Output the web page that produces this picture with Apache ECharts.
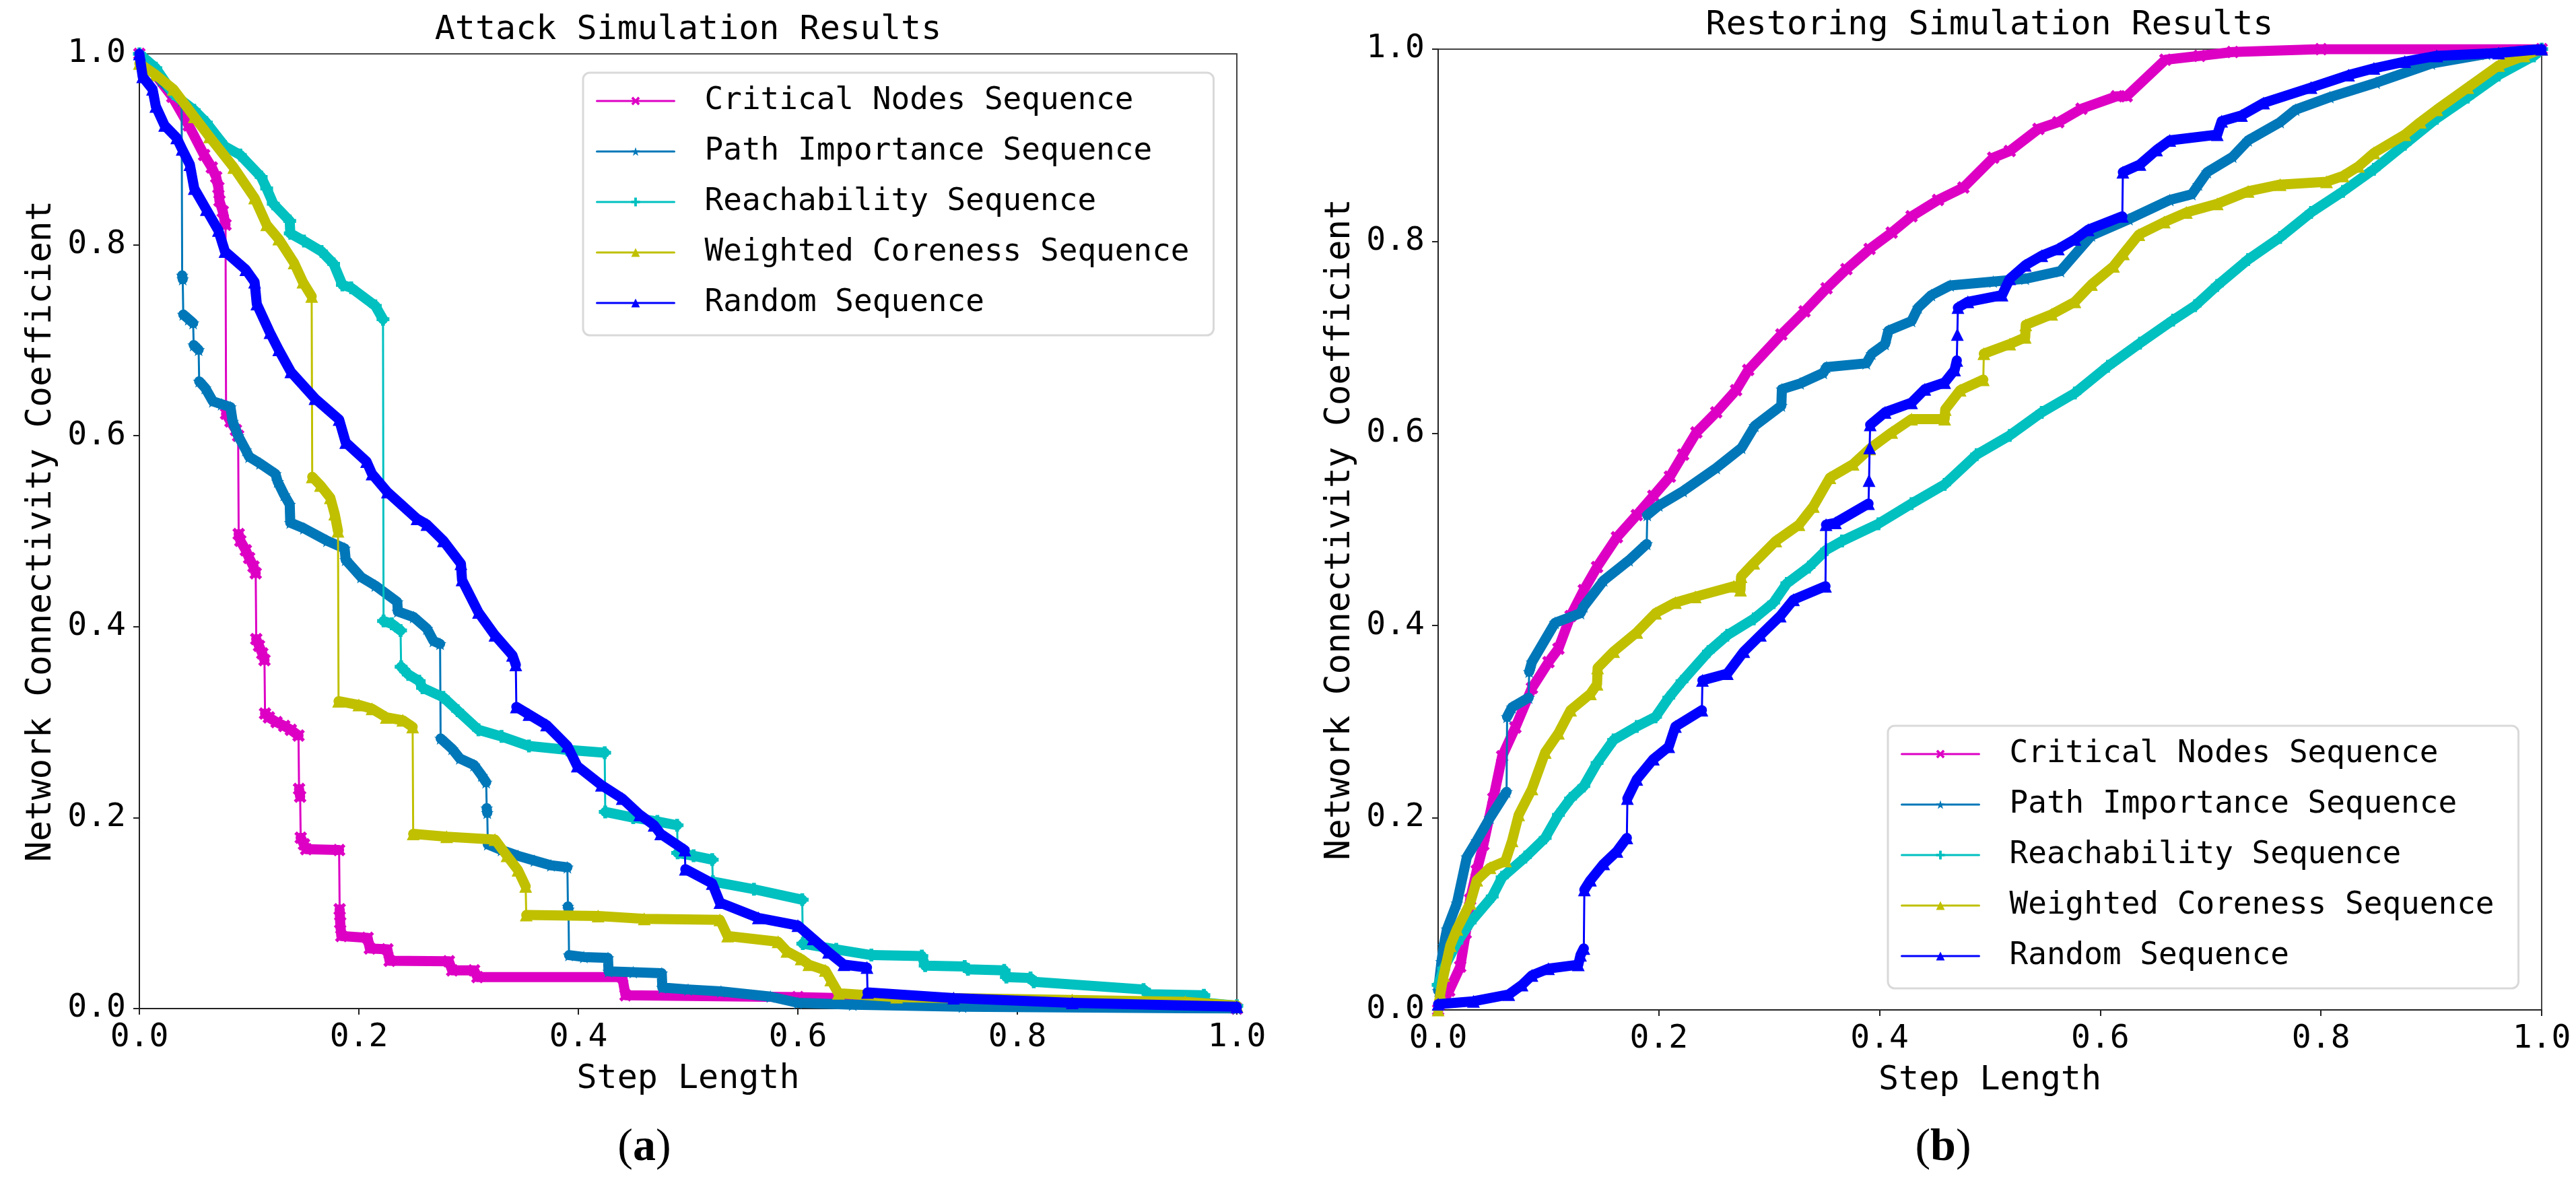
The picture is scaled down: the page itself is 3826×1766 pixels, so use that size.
<!DOCTYPE html>
<html>
<head>
<meta charset="utf-8">
<script src="https://cdn.jsdelivr.net/npm/echarts@6/dist/echarts.min.js"></script>
<style>
html, body { margin: 0; padding: 0; background: #fff; }
#chart { width: 3826px; height: 1766px; }
</style>
</head>
<body>
<div id="chart"></div>
<script>
// series names
var seriesNames = ['Critical Nodes Sequence', 'Path Importance Sequence', 'Reachability Sequence',
	'Weighted Coreness Sequence', 'Random Sequence'];
var seriesColors = ['#DD00C4', '#0077B8', '#00C0C0', '#C0C000', '#0000FF'];
var tickValues = [0, 0.2, 0.4, 0.6, 0.8, 1.0];

// (a) attack simulation, [step length, connectivity]
var attackCritical = [[0,1.0],[0.01,0.985],[0.03,0.955],[0.045,0.925],[0.059,0.894],[0.066,0.881],[0.070,0.871],
	[0.072,0.860],[0.073,0.846],[0.076,0.835],[0.0785,0.821],[0.079,0.623],[0.083,0.615],[0.088,0.606],[0.090,0.600],
	[0.0905,0.497],[0.092,0.490],[0.097,0.480],[0.100,0.472],[0.104,0.463],[0.106,0.456],[0.1065,0.387],[0.109,0.380],
	[0.112,0.372],[0.114,0.365],[0.1145,0.309],[0.118,0.305],[0.125,0.300],[0.132,0.296],[0.138,0.292],[0.145,0.286],
	[0.1455,0.230],[0.1465,0.222],[0.147,0.179],[0.150,0.172],[0.152,0.167],[0.182,0.166],[0.1825,0.104],[0.183,0.090],
	[0.184,0.076],[0.208,0.074],[0.210,0.063],[0.226,0.062],[0.228,0.050],[0.282,0.0495],[0.285,0.040],[0.305,0.040],
	[0.308,0.033],[0.440,0.033],[0.443,0.014],[0.600,0.012],[0.750,0.008],[0.900,0.004],[1.0,0.0]];
var attackPath = [[0,1.0],[0.01,0.985],[0.02,0.972],[0.03,0.960],[0.0385,0.951],[0.039,0.768],[0.0395,0.764],
	[0.040,0.727],[0.045,0.722],[0.049,0.718],[0.0495,0.695],[0.054,0.690],[0.0545,0.657],[0.060,0.650],[0.067,0.636],
	[0.075,0.633],[0.083,0.630],[0.085,0.615],[0.090,0.600],[0.097,0.585],[0.100,0.578],[0.110,0.571],[0.124,0.560],
	[0.126,0.552],[0.132,0.538],[0.137,0.528],[0.1375,0.509],[0.150,0.503],[0.171,0.490],[0.187,0.482],[0.188,0.470],
	[0.202,0.452],[0.215,0.443],[0.235,0.426],[0.2355,0.416],[0.250,0.410],[0.262,0.398],[0.268,0.385],[0.274,0.382],
	[0.2745,0.283],[0.285,0.272],[0.292,0.262],[0.305,0.255],[0.312,0.244],[0.316,0.237],[0.3165,0.210],[0.317,0.205],
	[0.3175,0.172],[0.330,0.166],[0.345,0.160],[0.360,0.155],[0.375,0.150],[0.390,0.148],[0.3905,0.107],[0.391,0.104],
	[0.3915,0.056],[0.405,0.054],[0.427,0.053],[0.4275,0.039],[0.450,0.038],[0.476,0.037],[0.4765,0.022],[0.500,0.020],
	[0.530,0.018],[0.575,0.0125],[0.600,0.006],[0.650,0.004],[0.750,0.002],[1.0,0.0]];
var attackReach = [[0,1.0],[0.015,0.985],[0.031,0.958],[0.050,0.941],[0.061,0.928],[0.078,0.903],[0.092,0.894],
	[0.111,0.871],[0.116,0.859],[0.122,0.843],[0.137,0.825],[0.1375,0.812],[0.150,0.804],[0.166,0.793],[0.177,0.780],
	[0.185,0.758],[0.193,0.755],[0.215,0.736],[0.222,0.722],[0.2225,0.406],[0.230,0.403],[0.238,0.396],[0.2385,0.358],
	[0.245,0.350],[0.255,0.343],[0.258,0.336],[0.277,0.326],[0.290,0.312],[0.309,0.292],[0.330,0.285],[0.355,0.275],
	[0.390,0.271],[0.424,0.268],[0.4245,0.206],[0.450,0.200],[0.472,0.196],[0.490,0.192],[0.4905,0.163],[0.505,0.160],
	[0.522,0.156],[0.5225,0.133],[0.560,0.125],[0.604,0.114],[0.6045,0.068],[0.635,0.062],[0.667,0.056],[0.713,0.055],
	[0.716,0.045],[0.752,0.044],[0.755,0.041],[0.788,0.040],[0.790,0.033],[0.812,0.032],[0.815,0.028],[0.915,0.020],
	[0.920,0.015],[0.970,0.014],[0.972,0.006],[1.0,0.003]];
var attackCoreness = [[0,0.99],[0.015,0.978],[0.031,0.963],[0.050,0.934],[0.064,0.913],[0.086,0.881],[0.105,0.849],
	[0.116,0.821],[0.127,0.806],[0.141,0.781],[0.149,0.761],[0.157,0.746],[0.1575,0.557],[0.165,0.548],[0.174,0.535],
	[0.178,0.518],[0.181,0.500],[0.1815,0.322],[0.200,0.318],[0.212,0.314],[0.225,0.305],[0.240,0.302],[0.249,0.295],
	[0.2495,0.183],[0.280,0.180],[0.324,0.177],[0.335,0.160],[0.345,0.145],[0.352,0.128],[0.3525,0.098],[0.418,0.097],
	[0.460,0.094],[0.529,0.093],[0.536,0.076],[0.582,0.070],[0.590,0.060],[0.603,0.052],[0.610,0.046],[0.625,0.040],
	[0.630,0.030],[0.637,0.016],[0.690,0.012],[0.742,0.011],[0.850,0.009],[0.953,0.007],[1.0,0.003]];
var attackRandom = [[0,1.0],[0.003,0.976],[0.012,0.963],[0.015,0.945],[0.023,0.925],[0.034,0.912],[0.039,0.900],
	[0.046,0.884],[0.050,0.859],[0.061,0.837],[0.072,0.815],[0.078,0.793],[0.097,0.774],[0.105,0.761],[0.107,0.738],
	[0.119,0.708],[0.127,0.690],[0.138,0.667],[0.160,0.639],[0.182,0.617],[0.188,0.593],[0.207,0.573],[0.212,0.560],
	[0.226,0.541],[0.253,0.513],[0.262,0.507],[0.277,0.490],[0.293,0.466],[0.294,0.449],[0.309,0.415],[0.324,0.391],
	[0.340,0.370],[0.343,0.360],[0.3435,0.316],[0.355,0.308],[0.371,0.297],[0.390,0.275],[0.399,0.254],[0.421,0.234],
	[0.440,0.220],[0.456,0.203],[0.469,0.192],[0.475,0.183],[0.497,0.166],[0.4975,0.146],[0.522,0.131],[0.529,0.111],
	[0.564,0.095],[0.600,0.087],[0.614,0.073],[0.628,0.059],[0.642,0.046],[0.663,0.043],[0.6635,0.017],[0.742,0.011],
	[0.850,0.006],[1.0,0.002]];

// (b) restoring simulation
var restoreCritical = [[0,0.0],[0.01,0.02],[0.02,0.045],[0.025,0.080],[0.029,0.115],[0.035,0.145],[0.041,0.172],
	[0.050,0.220],[0.058,0.264],[0.070,0.294],[0.085,0.335],[0.100,0.362],[0.109,0.376],[0.120,0.410],[0.132,0.437],
	[0.144,0.461],[0.162,0.492],[0.180,0.515],[0.195,0.535],[0.210,0.555],[0.222,0.578],[0.234,0.601],[0.252,0.622],
	[0.270,0.645],[0.281,0.666],[0.311,0.703],[0.332,0.727],[0.352,0.751],[0.370,0.771],[0.391,0.792],[0.411,0.809],
	[0.429,0.826],[0.453,0.843],[0.476,0.856],[0.503,0.887],[0.518,0.894],[0.544,0.917],[0.562,0.924],[0.583,0.938],
	[0.615,0.951],[0.624,0.951],[0.659,0.989],[0.690,0.993],[0.720,0.997],[0.800,1.0],[1.0,1.0]];
var restorePath = [[0,0.02],[0.003,0.050],[0.005,0.067],[0.008,0.084],[0.017,0.111],[0.026,0.159],[0.035,0.176],
	[0.047,0.200],[0.062,0.227],[0.0625,0.305],[0.067,0.315],[0.082,0.325],[0.0825,0.352],[0.085,0.362],[0.106,0.403],
	[0.129,0.413],[0.132,0.420],[0.150,0.447],[0.173,0.468],[0.189,0.485],[0.1895,0.515],[0.200,0.525],[0.222,0.540],
	[0.252,0.564],[0.275,0.585],[0.287,0.608],[0.311,0.629],[0.3115,0.646],[0.328,0.652],[0.349,0.663],[0.352,0.669],
	[0.388,0.673],[0.393,0.683],[0.405,0.693],[0.408,0.707],[0.429,0.717],[0.435,0.731],[0.447,0.744],[0.464,0.754],
	[0.503,0.758],[0.532,0.761],[0.564,0.769],[0.592,0.806],[0.626,0.823],[0.663,0.843],[0.683,0.849],[0.689,0.859],
	[0.697,0.872],[0.720,0.888],[0.734,0.905],[0.763,0.924],[0.777,0.937],[0.808,0.950],[0.850,0.965],[0.900,0.985],
	[0.950,0.995],[1.0,1.0]];
var restoreReach = [[0,0.026],[0.005,0.043],[0.017,0.070],[0.029,0.091],[0.049,0.118],[0.058,0.138],[0.079,0.159],
	[0.097,0.179],[0.109,0.203],[0.120,0.220],[0.132,0.233],[0.144,0.257],[0.159,0.281],[0.180,0.295],[0.197,0.305],
	[0.209,0.325],[0.221,0.342],[0.245,0.373],[0.262,0.390],[0.286,0.407],[0.304,0.424],[0.316,0.444],[0.336,0.461],
	[0.352,0.479],[0.366,0.488],[0.399,0.506],[0.429,0.527],[0.459,0.547],[0.488,0.578],[0.518,0.598],[0.547,0.622],
	[0.577,0.642],[0.607,0.670],[0.636,0.694],[0.666,0.718],[0.686,0.733],[0.706,0.754],[0.734,0.781],[0.763,0.804],
	[0.791,0.830],[0.820,0.852],[0.848,0.875],[0.876,0.901],[0.905,0.928],[0.933,0.950],[0.961,0.973],[0.993,0.993],
	[1.0,1.0]];
var restoreCoreness = [[0,0.0],[0.002,0.017],[0.005,0.036],[0.011,0.067],[0.017,0.084],[0.029,0.111],[0.035,0.135],
	[0.047,0.148],[0.061,0.155],[0.067,0.176],[0.073,0.203],[0.085,0.230],[0.097,0.268],[0.109,0.288],[0.120,0.312],
	[0.138,0.329],[0.144,0.339],[0.1445,0.356],[0.159,0.373],[0.180,0.393],[0.197,0.413],[0.215,0.424],[0.233,0.430],
	[0.268,0.441],[0.274,0.437],[0.2745,0.451],[0.286,0.465],[0.306,0.488],[0.327,0.505],[0.340,0.524],[0.355,0.554],
	[0.376,0.568],[0.391,0.584],[0.411,0.601],[0.429,0.615],[0.459,0.615],[0.4595,0.625],[0.473,0.645],[0.494,0.656],
	[0.4945,0.683],[0.518,0.693],[0.532,0.700],[0.5325,0.713],[0.556,0.724],[0.577,0.737],[0.592,0.755],[0.612,0.774],
	[0.621,0.787],[0.635,0.807],[0.658,0.820],[0.678,0.830],[0.706,0.839],[0.734,0.852],[0.763,0.859],[0.805,0.862],
	[0.820,0.868],[0.834,0.878],[0.848,0.892],[0.876,0.911],[0.890,0.924],[0.905,0.937],[0.933,0.960],[0.961,0.983],
	[0.984,0.993],[1.0,1.0]];
var restoreRandom = [[0,0.006],[0.032,0.009],[0.064,0.016],[0.076,0.026],[0.085,0.036],[0.100,0.043],[0.127,0.047],
	[0.129,0.057],[0.132,0.064],[0.1325,0.125],[0.138,0.135],[0.150,0.152],[0.162,0.165],[0.171,0.179],[0.1715,0.220],
	[0.180,0.240],[0.195,0.261],[0.209,0.274],[0.215,0.295],[0.239,0.312],[0.2395,0.343],[0.262,0.350],[0.277,0.373],
	[0.292,0.390],[0.310,0.410],[0.322,0.427],[0.351,0.441],[0.3515,0.505],[0.360,0.507],[0.390,0.527],[0.3905,0.551],
	[0.391,0.585],[0.3915,0.609],[0.405,0.622],[0.429,0.632],[0.441,0.646],[0.459,0.653],[0.468,0.666],[0.470,0.676],
	[0.4705,0.703],[0.471,0.731],[0.480,0.737],[0.511,0.744],[0.518,0.761],[0.532,0.775],[0.547,0.785],[0.562,0.792],
	[0.577,0.802],[0.589,0.812],[0.620,0.826],[0.6205,0.872],[0.636,0.880],[0.651,0.895],[0.663,0.905],[0.706,0.911],
	[0.710,0.925],[0.728,0.931],[0.748,0.944],[0.791,0.960],[0.825,0.973],[0.848,0.980],[0.876,0.987],[0.905,0.993],
	[0.961,0.996],[1.0,1.0]];

var attackData = [attackCritical, attackPath, attackReach, attackCoreness, attackRandom];
var restoreData = [restoreCritical, restorePath, restoreReach, restoreCoreness, restoreRandom];

var FONT = "'DejaVu Sans Mono', monospace";
// 标记形状
var markerSymbols = [
	'path://M2,0 L5,3 L8,0 L10,2 L7,5 L10,8 L8,10 L5,7 L2,10 L0,8 L3,5 L0,2 Z',
	'path://M5,0 L6.2,3.6 L10,3.6 L6.9,5.9 L8.1,9.5 L5,7.3 L1.9,9.5 L3.1,5.9 L0,3.6 L3.8,3.6 Z',
	'path://M3.5,0 H6.5 V3.5 H10 V6.5 H6.5 V10 H3.5 V6.5 H0 V3.5 H3.5 Z',
	'triangle',
	'triangle'
];

var myChart = echarts.init(document.getElementById('chart'));

// 竖直跳变用细线, 其余用粗线
function isJump(a, b) {
	return Math.abs(b[0] - a[0]) < 0.0015 && Math.abs(b[1] - a[1]) >= 0.02;
}

function buildSeries(idx, pts, axisIdx) {
	var band = [];
	for (var i = 0; i < pts.length; i++) {
		if (i > 0 && isJump(pts[i - 1], pts[i])) {
			band.push([pts[i][0], '-']);
		}
		band.push(pts[i]);
	}
	var color = seriesColors[idx];
	return [{
		name : seriesNames[idx],
		type : 'line',
		xAxisIndex : axisIdx,
		yAxisIndex : axisIdx,
		data : band,
		symbol : markerSymbols[idx],
		symbolSize : 19,
		showSymbol : true,
		connectNulls : false,
		lineStyle : { width : 15, color : color, join : 'round', cap : 'round' },
		itemStyle : { color : color },
		z : 2 + idx
	}, {
		name : seriesNames[idx],
		type : 'line',
		xAxisIndex : axisIdx,
		yAxisIndex : axisIdx,
		data : pts,
		symbol : 'none',
		showSymbol : false,
		lineStyle : { width : 3, color : color },
		itemStyle : { color : color },
		z : 2 + idx
	}];
}

function xAxisSetting(gi) {
	return {
		gridIndex : gi,
		type : 'value',
		min : 0,
		max : 1,
		interval : 0.2,
		name : 'Step Length',
		nameLocation : 'middle',
		nameGap : 80,
		nameTextStyle : { fontFamily : FONT, fontSize : 50, color : '#000' },
		axisLine : { lineStyle : { color : '#222', width : 2 } },
		axisTick : { length : 9, lineStyle : { color : '#222', width : 2 } },
		axisLabel : {
			fontFamily : FONT, fontSize : 48, color : '#000', margin : 20,
			formatter : function(v) { return v.toFixed(1); }
		},
		splitLine : { show : false }
	};
}

function yAxisSetting(gi) {
	return {
		gridIndex : gi,
		type : 'value',
		min : 0,
		max : 1,
		interval : 0.2,
		name : 'Network Connectivity Coefficient',
		nameLocation : 'middle',
		nameGap : 120,
		nameTextStyle : { fontFamily : FONT, fontSize : 51, color : '#000' },
		axisLine : { lineStyle : { color : '#222', width : 2 } },
		axisTick : { length : 9, lineStyle : { color : '#222', width : 2 } },
		axisLabel : {
			fontFamily : FONT, fontSize : 48, color : '#000', margin : 20,
			formatter : function(v) { return v.toFixed(1); }
		},
		splitLine : { show : false }
	};
}

function legendSetting(left, top) {
	return {
		data : seriesNames,
		orient : 'vertical',
		left : left,
		top : top,
		padding : [17, 36, 23, 19],
		itemWidth : 115,
		itemHeight : 16,
		itemGap : 25,
		selectedMode : false,
		borderColor : '#d9d9d9',
		borderWidth : 3,
		borderRadius : 10,
		backgroundColor : 'rgba(255,255,255,0.8)',
		lineStyle : { width : 3 },
		textStyle : { fontFamily : FONT, fontSize : 46, color : '#000', lineHeight : 50, padding : [0, 0, 0, 40] }
	};
}

function textItem(x, y, text, size) {
	return {
		type : 'text', x : x, y : y, z : 100,
		style : { text : text, fontFamily : FONT, fontSize : size, fill : '#000', align : 'center', verticalAlign : 'middle' }
	};
}

function panelLabel(x, y, letter) {
	return {
		type : 'text', x : x, y : y, z : 100,
		style : {
			text : '{p|(}{b|' + letter + '}{p|)}',
			align : 'center', verticalAlign : 'middle',
			rich : {
				p : { fontFamily : 'Liberation Serif', fontSize : 68, fill : '#000' },
				b : { fontFamily : 'Liberation Serif', fontSize : 68, fontWeight : 'bold', fill : '#000' }
			}
		}
	};
}

var series = [];
for (var k = 0; k < 5; k++) {
	series = series.concat(buildSeries(k, attackData[k], 0));
}
for (var m = 0; m < 5; m++) {
	series = series.concat(buildSeries(m, restoreData[m], 1));
}

var option = {
	animation : false,
	backgroundColor : '#fff',
	grid : [
		{ left : 207, top : 80, width : 1630, height : 1418, show : true, borderColor : '#444', borderWidth : 2 },
		{ left : 2136, top : 73, width : 1639, height : 1427, show : true, borderColor : '#444', borderWidth : 2 }
	],
	xAxis : [xAxisSetting(0), xAxisSetting(1)],
	yAxis : [yAxisSetting(0), yAxisSetting(1)],
	legend : [legendSetting(866, 108), legendSetting(2804, 1078)],
	graphic : [
		textItem(1022, 45, 'Attack Simulation Results', 50),
		textItem(2955, 38, 'Restoring Simulation Results', 50),
		panelLabel(957, 1705, 'a'),
		panelLabel(2886, 1705, 'b')
	],
	series : series
};
myChart.setOption(option);
</script>
</body>
</html>
